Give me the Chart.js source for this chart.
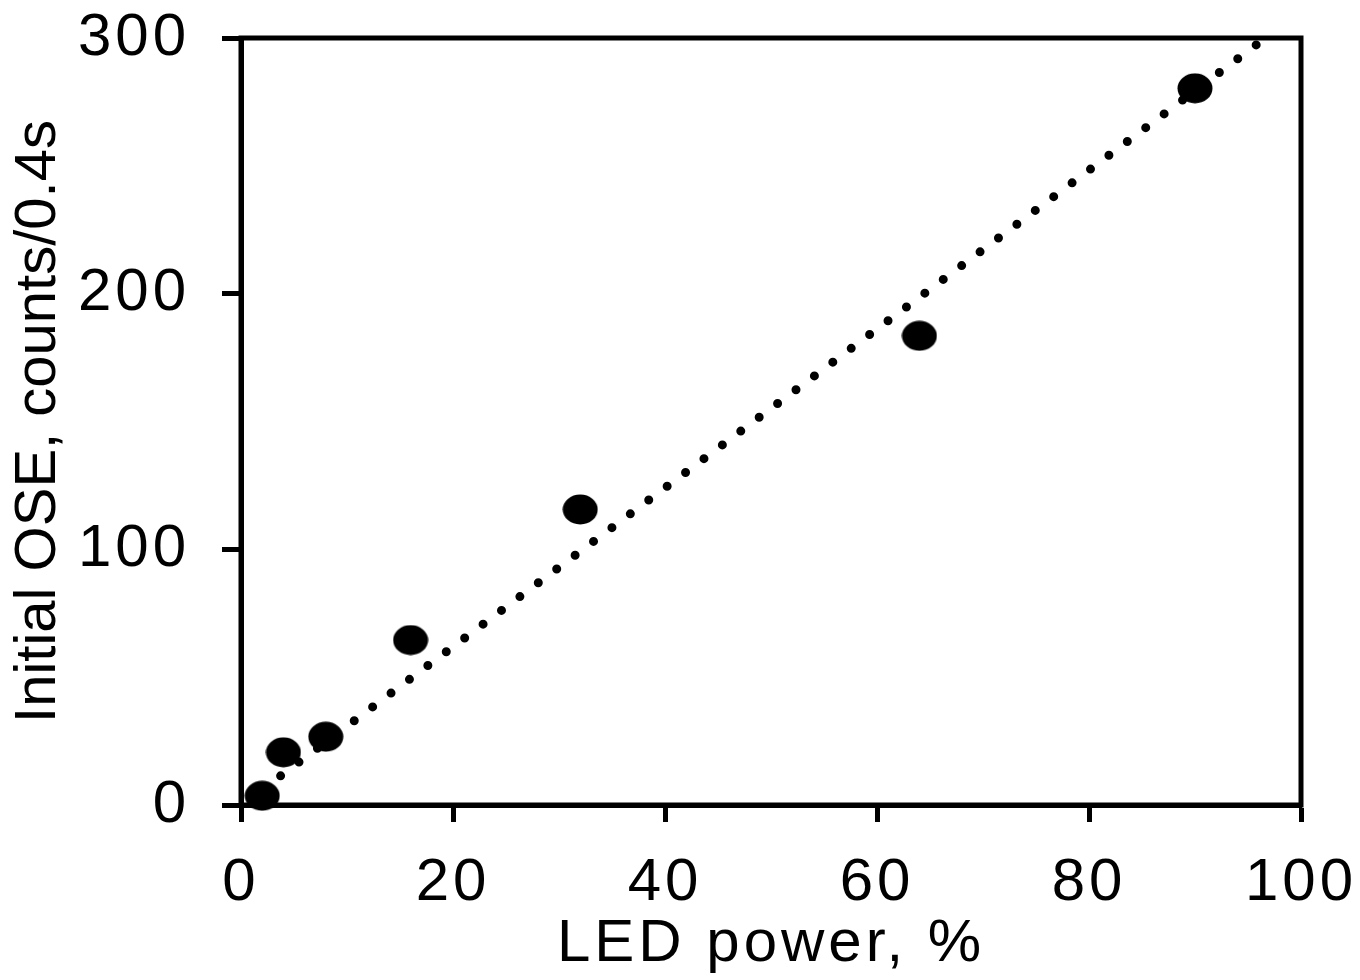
<!DOCTYPE html>
<html>
<head>
<meta charset="utf-8">
<script src="https://cdn.jsdelivr.net/npm/chart.js@4.4.0/dist/chart.umd.min.js"></script>
<style>
  html, body { margin: 0; padding: 0; background: #fff; }
  canvas { display: block; }
</style>
</head>
<body>
<canvas id="chart" width="1360" height="980"></canvas>
<script>
// measured points
const ledPower = [2, 4, 8, 16, 32, 64, 90]
const initialOSE = [3.6, 20.6, 26.7, 64.5, 115.6, 183.5, 280.3]
// dotted trend line
const trendX = [2, 96]
const trendY = [6, 298]
const xTicks = [0, 20, 40, 60, 80, 100]
const yTicks = [0, 100, 200, 300]

const FONT = "'Liberation Sans', Arial, sans-serif"

// slightly wide ellipse like the Excel marker
const marker = document.createElement('canvas')
marker.width = 36
marker.height = 31
const m = marker.getContext('2d')
m.fillStyle = '#000'
m.beginPath()
m.ellipse(18, 15.5, 17.5, 15, 0, 0, Math.PI * 2)
m.fill()

const spacing = {
  id: 'spacing',
  beforeUpdate (chart) { chart.ctx.letterSpacing = '4px' },
  beforeDraw (chart) {
    chart.ctx.letterSpacing = '4px'
    const ys = chart.scales.y
    if (!ys._plainTitle) {
      const orig = ys.drawTitle.bind(ys)
      ys.drawTitle = function () {
        const c = this.ctx
        const old = c.letterSpacing
        c.letterSpacing = '0px'
        orig()
        c.letterSpacing = old
      }
      ys._plainTitle = true
    }
  }
}

const frame = {
  id: 'frame',
  beforeDatasetsDraw (chart) {
    const { ctx, chartArea: a } = chart
    ctx.save()
    ctx.strokeStyle = '#000'
    ctx.lineWidth = 5
    ctx.strokeRect(a.left, a.top, a.right - a.left, a.bottom - a.top)
    ctx.restore()
  }
}

const axisGrid = len => ({
  drawOnChartArea: false,
  drawTicks: true,
  tickLength: len,
  tickWidth: 5,
  color: '#000'
})

// keep the plot box where the layout padding puts it
const noAutoPad = s => {
  s.paddingTop = 0
  s.paddingBottom = 0
  s.paddingLeft = 0
  s.paddingRight = 0
}

new Chart(document.getElementById('chart'), {
  type: 'scatter',
  data: {
    datasets: [
      {
        label: 'Initial OSE',
        data: ledPower.map((x, i) => ({ x, y: initialOSE[i] })),
        pointStyle: marker,
        pointRadius: 17,
        pointHoverRadius: 17,
        backgroundColor: '#000',
        borderColor: '#000',
        clip: false,
        order: 1
      },
      {
        label: 'Trend',
        data: trendX.map((x, i) => ({ x, y: trendY[i] })),
        showLine: true,
        borderColor: '#000',
        borderWidth: 9,
        borderDash: [0, 23],
        borderCapStyle: 'round',
        pointRadius: 0,
        pointHoverRadius: 0,
        fill: false,
        clip: false,
        order: 2
      }
    ]
  },
  options: {
    responsive: false,
    animation: false,
    devicePixelRatio: 1,
    layout: { padding: { top: 38, right: 59, bottom: 0, left: 0 } },
    plugins: {
      legend: { display: false },
      tooltip: { enabled: false }
    },
    scales: {
      x: {
        type: 'linear',
        min: 0,
        max: 100,
        afterBuildTicks: s => { s.ticks = xTicks.map(v => ({ value: v })) },
        afterFit: s => { s.height = 175; noAutoPad(s) },
        grid: axisGrid(17),
        border: { display: true, width: 5, color: '#000' },
        ticks: { padding: 25, maxRotation: 0, color: '#000', font: { family: FONT, size: 60 } },
        title: {
          display: true,
          text: 'LED power, %',
          color: '#000',
          font: { family: FONT, size: 60 },
          padding: { top: 0, bottom: 0 }
        }
      },
      y: {
        type: 'linear',
        min: 0,
        max: 300,
        afterBuildTicks: s => { s.ticks = yTicks.map(v => ({ value: v })) },
        afterFit: s => { s.width = 241; noAutoPad(s) },
        grid: axisGrid(19),
        border: { display: true, width: 5, color: '#000' },
        ticks: { padding: 32, color: '#000', font: { family: FONT, size: 60 } },
        title: {
          display: true,
          text: 'Initial OSE, counts/0.4s',
          color: '#000',
          font: { family: FONT, size: 58 },
          padding: { top: 4, bottom: 0 }
        }
      }
    }
  },
  plugins: [spacing, frame]
})
</script>
</body>
</html>
